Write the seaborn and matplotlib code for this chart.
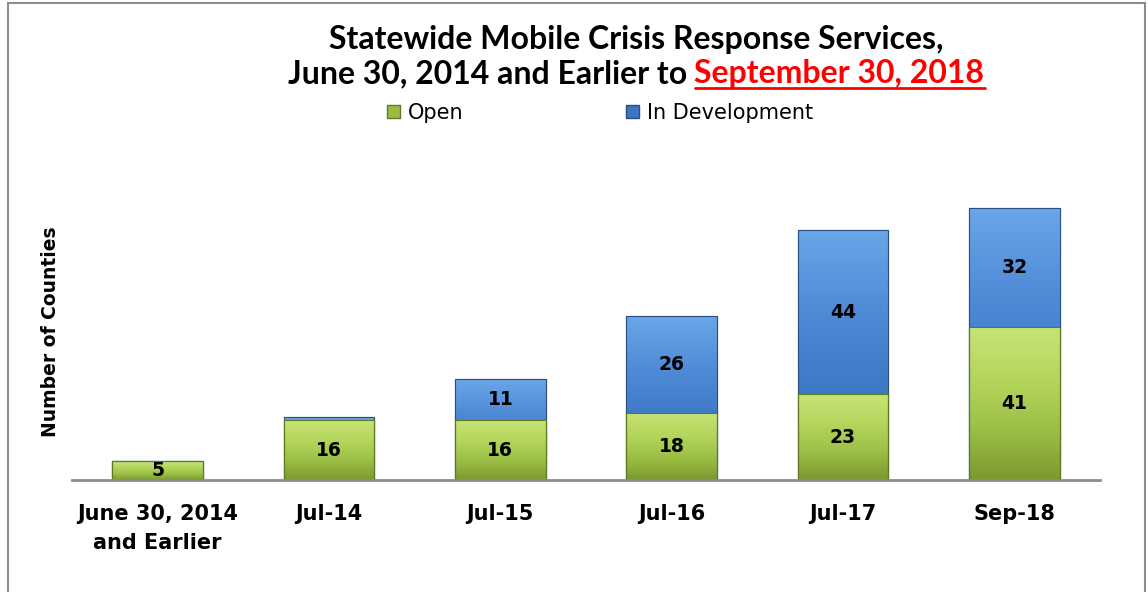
import numpy as np
import pandas as pd
import matplotlib
matplotlib.use("Agg")
import matplotlib.pyplot as plt
import seaborn as sns
from matplotlib.patches import Patch, Rectangle
from matplotlib.colors import LinearSegmentedColormap
from matplotlib.lines import Line2D

categories = ["June 30, 2014\nand Earlier", "Jul-14", "Jul-15", "Jul-16", "Jul-17", "Sep-18"]
open_counts = [5, 16, 16, 18, 23, 41]
dev_counts = [0, 1, 11, 26, 44, 32]
series_names = ["Open", "In Development"]
title_line1 = "Statewide Mobile Crisis Response Services,"
title_line2_black = "June 30, 2014 and Earlier to "
title_line2_red = "September 30, 2018"
ylabel = "Number of Counties"

df = pd.DataFrame({"period": categories, "open": open_counts, "dev": dev_counts})
df["total"] = df["open"] + df["dev"]

sns.set_theme(style="white")
plt.rcParams["font.family"] = ["DejaVu Sans"]
plt.rcParams["text.color"] = "black"
plt.rcParams["axes.labelcolor"] = "black"
plt.rcParams["xtick.color"] = "black"

W, H = 1148, 592
fig = plt.figure(figsize=(W / 100, H / 100), dpi=100)
ax = fig.add_axes([72 / W, 1 - 480 / H, 1028 / W, 330 / H])

green = "#9bbb46"
blue = "#3a76c2"
sns.barplot(data=df, x="period", y="total", color=blue, width=0.53, ax=ax,
            edgecolor="#2a4f80", linewidth=0.8, saturation=1)
sns.barplot(data=df, x="period", y="open", color=green, width=0.53, ax=ax,
            edgecolor="#5f7a22", linewidth=0.8, saturation=1)

# gradients
gcmap = LinearSegmentedColormap.from_list("g", ["#7a9930", "#9cc046", "#b4d65c", "#c8e478"])
bcmap = LinearSegmentedColormap.from_list("b", ["#2b5b99", "#3b77c3", "#4f8ad6", "#6aa6e8"])
grad = np.linspace(0, 1, 256).reshape(-1, 1)
for cont, cmap in [(ax.containers[0], bcmap), (ax.containers[1], gcmap)]:
    for p in cont.patches:
        x0, y0, w, h = p.get_x(), p.get_y(), p.get_width(), p.get_height()
        if h <= 0:
            continue
        im = ax.imshow(grad, cmap=cmap, aspect="auto", origin="lower",
                       extent=[x0, x0 + w, y0, y0 + h], zorder=p.get_zorder() + 0.1,
                       interpolation="bicubic")
        im.set_clip_path(p)
        edge = Rectangle((x0, y0), w, h, fill=False, edgecolor=p.get_edgecolor(),
                         linewidth=0.8, zorder=p.get_zorder() + 0.2)
        ax.add_patch(edge)
ax.set_xlim(-0.5, 5.5)
ax.set_ylim(0, 88.5)

# labels
for pb, o, d in zip(ax.containers[1].patches, open_counts, dev_counts):
    cx = pb.get_x() + pb.get_width() / 2
    ax.text(cx, o / 2, str(o), ha="center", va="center", fontsize=13.5,
            fontweight="bold", color="black", zorder=10)
    if d >= 5:
        ax.text(cx, o + d / 2, str(d), ha="center", va="center", fontsize=13.5,
                fontweight="bold", color="black", zorder=10)

sns.despine(ax=ax, left=True)
ax.spines["bottom"].set_color("#8c8c8c")
ax.spines["bottom"].set_linewidth(2)
ax.set_yticks([])
ax.set_xlabel("")
ax.set_ylabel(ylabel, fontsize=13.5, fontweight="bold")
ax.yaxis.set_label_coords(-0.012, 0.45)
ax.tick_params(axis="x", length=0, pad=17)
for lab in ax.get_xticklabels():
    lab.set_fontsize(15)
    lab.set_fontweight("bold")
    lab.set_linespacing(1.6)

# legend
handles = [Patch(facecolor=green, edgecolor="#5f7a22", label=series_names[0]),
           Patch(facecolor=blue, edgecolor="#2a4f80", label=series_names[1])]
fig.legend(handles=handles, loc="center", bbox_to_anchor=(600 / W, 1 - 113 / H), ncol=2,
           frameon=False, fontsize=15, columnspacing=7.8, handlelength=0.6, handleheight=0.6,
           handletextpad=0.4)

# title
tfam = ["Lato", "DejaVu Sans"]
tsize = 23
cxt = 636 / W
t1 = fig.text(cxt, 1 - 40 / H, title_line1, ha="center", va="center", fontsize=tsize,
              fontweight="bold", family=tfam)
fig.canvas.draw()
r = fig.canvas.get_renderer()
tb = fig.text(0, 1 - 74 / H, title_line2_black, ha="left", va="center", fontsize=tsize,
              fontweight="bold", family=tfam)
tr = fig.text(0, 1 - 74 / H, title_line2_red, ha="left", va="center", fontsize=tsize,
              fontweight="bold", family=tfam, color="#ff0000")
eb = tb.get_window_extent(r)
er = tr.get_window_extent(r)
total = eb.width + er.width
start = cxt * W - total / 2
tb.set_x(start / W)
tr.set_x((start + eb.width) / W)
fig.canvas.draw()
er = tr.get_window_extent(r)
uy = (er.y0 + 1) / H
fig.add_artist(Line2D([er.x0 / W, er.x1 / W], [uy, uy], color="#ff0000", linewidth=2))

# outer frame
fig.add_artist(Rectangle((8 / W, -0.02), (1145 - 8) / W, 1.02 - 3 / H, fill=False,
                         edgecolor="#8c8c8c", linewidth=1.5, transform=fig.transFigure))

fig.savefig("out.png", dpi=100, facecolor="white")
